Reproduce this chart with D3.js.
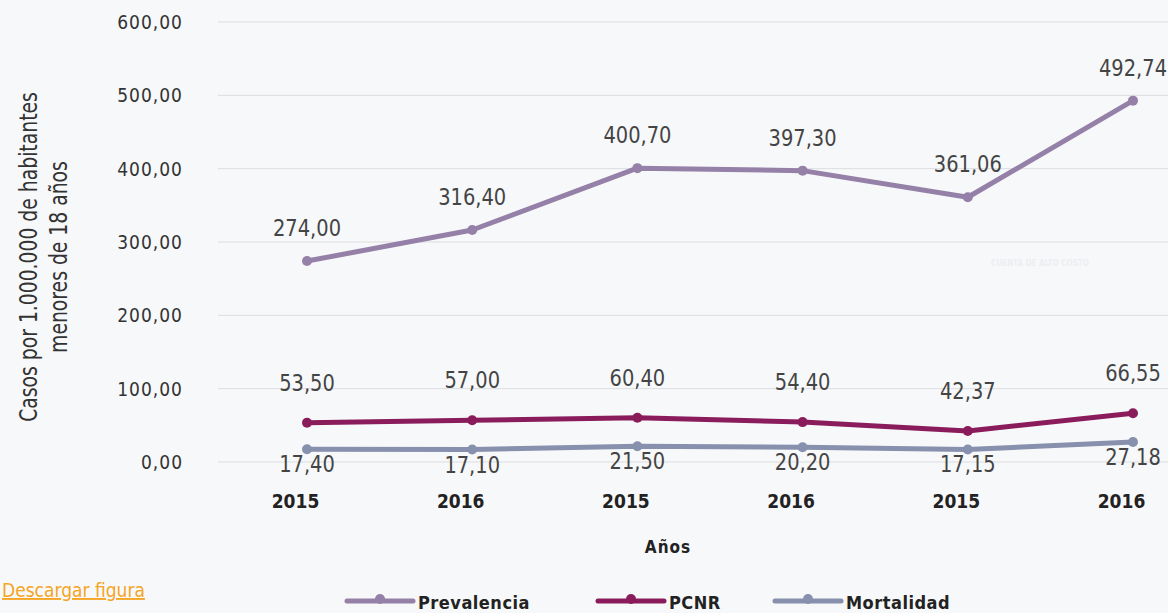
<!DOCTYPE html>
<html><head><meta charset="utf-8">
<script src="https://cdn.jsdelivr.net/npm/d3@7"></script>
<style>
html,body{margin:0;padding:0;background:#f7f8fa;}
svg{display:block;}
text{font-family:"Liberation Sans Narrow","DejaVu Sans Condensed","Roboto",sans-serif;}
</style></head>
<body>
<svg id="c" width="1168" height="613"></svg>
<script>
const categories = ["2015","2016","2015","2016","2015","2016"];
const prevalencia = [274.00, 316.40, 400.70, 397.30, 361.06, 492.74];
const pcnr = [53.50, 57.00, 60.40, 54.40, 42.37, 66.55];
const mortalidad = [17.40, 17.10, 21.50, 20.20, 17.15, 27.18];
const yTicks = [0, 100, 200, 300, 400, 500, 600];
const seriesNames = ["Prevalencia", "PCNR", "Mortalidad"];
const seriesColors = ["#9580a8", "#8a1c5b", "#8790ad"];

const svg = d3.select("#c");
const fmt = v => v.toFixed(2).replace(".", ",");

const y = d3.scaleLinear().domain([0, 600]).range([462, 22]);
const x = d3.scalePoint().domain(d3.range(categories.length)).range([307, 1133]);

// grid
svg.append("g").selectAll("line").data(yTicks).join("line")
  .attr("x1", 218).attr("x2", 1168)
  .attr("y1", d => y(d)).attr("y2", d => y(d))
  .attr("stroke", "#dcdde0").attr("stroke-width", 1);

// y tick labels
const yAxis = svg.append("g").attr("transform", "translate(183,0)")
  .call(d3.axisLeft(y).tickValues(yTicks).tickFormat(fmt).tickSize(0).tickPadding(0));
yAxis.select(".domain").remove();
yAxis.selectAll("text").attr("font-size", 19).attr("fill", "#333")
  .attr("letter-spacing", "1px").attr("dy", "0.35em");

// x axis
const xAxis = svg.append("g").attr("transform", "translate(0,493)")
  .call(d3.axisBottom(x).tickFormat(i => categories[i]).tickSize(0).tickPadding(0));
xAxis.select(".domain").remove();
xAxis.selectAll("text").attr("font-size", 19).attr("font-weight", "bold")
  .attr("fill", "#222").attr("dx", -12).attr("dy", "0.8em");

// watermark
svg.append("text").attr("x", 1040).attr("y", 266).attr("text-anchor", "middle")
  .attr("font-size", 8).attr("font-weight", "bold").attr("fill", "#eceef1").text("CUENTA DE ALTO COSTO");

// lines
const series = [prevalencia, pcnr, mortalidad];
const labelOffsets = [-33, -40, 15];
const line = d3.line().x((d, i) => x(i)).y(d => y(d));
series.forEach((vals, s) => {
  const g = svg.append("g");
  g.append("path").datum(vals).attr("d", line).attr("fill", "none")
    .attr("stroke", seriesColors[s]).attr("stroke-width", 5).attr("stroke-linejoin", "round");
  g.selectAll("circle").data(vals).join("circle")
    .attr("cx", (d, i) => x(i)).attr("cy", d => y(d)).attr("r", 5).attr("fill", seriesColors[s]);
  g.selectAll("text").data(vals).join("text")
    .attr("transform", (d, i) => `translate(${x(i)},${y(d) + labelOffsets[s]}) scale(0.94,1)`)
    .attr("dy", "0.35em").attr("text-anchor", "middle")
    .attr("font-size", 23).attr("fill", "#444").text(fmt);
});

// y axis title
svg.append("text").attr("transform", "translate(37,257) rotate(-90) scale(0.87,1)")
  .attr("text-anchor", "middle").attr("font-size", 24).attr("fill", "#333")
  .text("Casos por 1.000.000 de habitantes");
svg.append("text").attr("transform", "translate(67,257) rotate(-90) scale(0.87,1)")
  .attr("text-anchor", "middle").attr("font-size", 24).attr("fill", "#333")
  .text("menores de 18 años");

// x axis title
svg.append("text").attr("x", 668).attr("y", 553).attr("text-anchor", "middle")
  .attr("font-size", 17).attr("font-weight", "bold").attr("letter-spacing", "1px")
  .attr("fill", "#222").text("Años");

// download link
svg.append("text").attr("x", 2).attr("y", 597).attr("text-anchor", "start")
  .attr("font-size", 19).attr("fill", "#f5a524").attr("text-decoration", "underline")
  .text("Descargar figura");

// legend
const legX = [347, 598, 775];
const leg = svg.append("g").selectAll("g").data(seriesNames).join("g")
  .attr("transform", (d, i) => `translate(${legX[i]},601)`);
leg.append("line").attr("x1", 0).attr("x2", 66).attr("y1", 0).attr("y2", 0)
  .attr("stroke", (d, i) => seriesColors[i]).attr("stroke-width", 5).attr("stroke-linecap", "round");
leg.append("circle").attr("cx", 33).attr("cy", -2).attr("r", 5).attr("fill", (d, i) => seriesColors[i]);
leg.append("text").attr("x", 71).attr("y", 2).attr("dy", "0.35em")
  .attr("font-size", 18).attr("font-weight", "bold").attr("letter-spacing", "0.5px")
  .attr("fill", "#222").text(d => d);
</script>
</body></html>
